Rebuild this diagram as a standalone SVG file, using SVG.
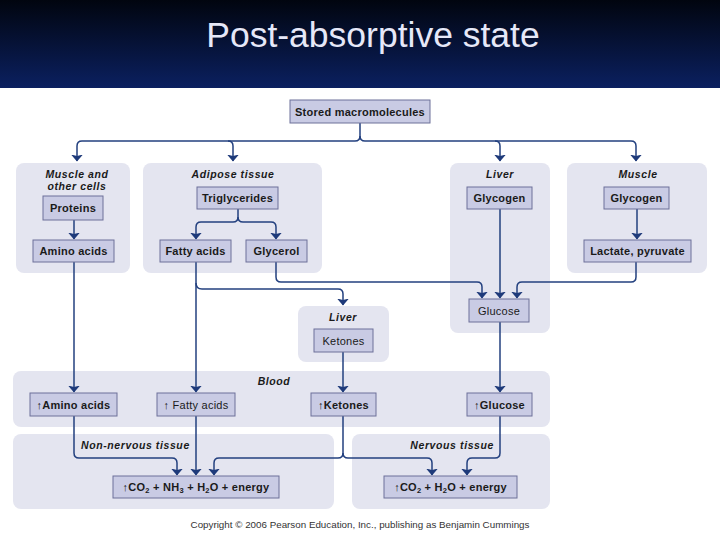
<svg xmlns="http://www.w3.org/2000/svg" width="720" height="540" viewBox="0 0 720 540">
<defs>
<linearGradient id="hdr" x1="0" y1="0" x2="0" y2="1">
<stop offset="0" stop-color="#01050f"/>
<stop offset="1" stop-color="#0b2060"/>
</linearGradient>
<marker id="ah" markerUnits="userSpaceOnUse" markerWidth="7" markerHeight="12" viewBox="0 0 7 12" refX="6.5" refY="6" orient="auto">
<path d="M0,0 L7,6 L0,12 L1.5,6 z" fill="#1e3a7a"/>
</marker>
<style>
.panel{fill:#e4e5f0;}
.box{fill:#c9cbe4;stroke:#6c7099;stroke-width:1;}
.bt{font-family:"Liberation Sans",Arial,sans-serif;font-weight:bold;font-size:11px;letter-spacing:0.25px;fill:#1a1a1a;text-anchor:middle;}
.nw{font-weight:normal;}
.lbl{font-family:"Liberation Sans",Arial,sans-serif;font-weight:bold;font-style:italic;font-size:10.5px;letter-spacing:0.6px;fill:#1a1a1a;text-anchor:middle;}
.st{text-anchor:start;}
.en{text-anchor:end;}
.con{fill:none;stroke:#23407f;stroke-width:1.5;}
</style>
</defs>
<rect x="0" y="0" width="720" height="540" fill="#ffffff"/>
<rect x="0" y="0" width="720" height="88" fill="url(#hdr)"/>
<text x="373" y="47" font-family="'Liberation Sans',Arial,sans-serif" font-size="35.5" fill="#e6e8f8" text-anchor="middle">Post-absorptive state</text>

<g id="panels">
<rect id="p-muscle-other" class="panel" x="16" y="163" width="114" height="110" rx="8"/>
<rect id="p-adipose" class="panel" x="143" y="163" width="179" height="110" rx="8"/>
<rect id="p-liver" class="panel" x="450" y="163" width="100" height="170" rx="8"/>
<rect id="p-muscle" class="panel" x="567" y="163" width="140" height="110" rx="8"/>
<rect id="p-liver2" class="panel" x="298" y="306" width="91" height="56" rx="8"/>
<rect id="p-blood" class="panel" x="13" y="371" width="537" height="56" rx="8"/>
<rect id="p-nonnervous" class="panel" x="13" y="434" width="321" height="75" rx="8"/>
<rect id="p-nervous" class="panel" x="352" y="434" width="198" height="75" rx="8"/>
</g>

<g id="labels">
<text class="lbl" x="77" y="178">Muscle and</text>
<text class="lbl" x="77" y="189.5">other cells</text>
<text class="lbl" x="233" y="178">Adipose tissue</text>
<text class="lbl" x="500" y="178">Liver</text>
<text class="lbl" x="638" y="178">Muscle</text>
<text class="lbl" x="343" y="321">Liver</text>
<text class="lbl" x="274" y="385">Blood</text>
<text class="lbl st" x="81" y="449">Non-nervous tissue</text>
<text class="lbl en" x="494" y="449">Nervous tissue</text>
</g>

<g id="connectors">
<path class="con" d="M360,123 V136 Q360,141 355,141 H82 Q77,141 77,146 V161" marker-end="url(#ah)"/>
<path class="con" d="M228,141 Q233,141 233,146 V161" marker-end="url(#ah)"/>
<path class="con" d="M360,136 Q360,141 365,141 H631 Q636,141 636,146 V161" marker-end="url(#ah)"/>
<path class="con" d="M495,141 Q500,141 500,146 V161" marker-end="url(#ah)"/>
<path class="con" d="M74,220 V239" marker-end="url(#ah)"/>
<path class="con" d="M238,209 V217 Q238,222 233,222 H201 Q196,222 196,227 V239" marker-end="url(#ah)"/>
<path class="con" d="M238,217 Q238,222 243,222 H271 Q276,222 276,227 V239" marker-end="url(#ah)"/>
<path class="con" d="M637,209 V239" marker-end="url(#ah)"/>
<path class="con" d="M74,262 V392" marker-end="url(#ah)"/>
<path class="con" d="M196,262 V392" marker-end="url(#ah)"/>
<path class="con" d="M196,283 Q196,289 202,289 H338 Q343,289 343,294 V305" marker-end="url(#ah)"/>
<path class="con" d="M276,262 V277 Q276,282 281,282 H477 Q482,282 482,287 V298" marker-end="url(#ah)"/>
<path class="con" d="M500,209 V298" marker-end="url(#ah)"/>
<path class="con" d="M636,262 V277 Q636,282 631,282 H522 Q517,282 517,287 V298" marker-end="url(#ah)"/>
<path class="con" d="M343,352 V392" marker-end="url(#ah)"/>
<path class="con" d="M500,322 V392" marker-end="url(#ah)"/>
<path class="con" d="M74,416 V453 Q74,458 79,458 H172 Q177,458 177,463 V475" marker-end="url(#ah)"/>
<path class="con" d="M196,416 V475" marker-end="url(#ah)"/>
<path class="con" d="M343,416 V453 Q343,458 338,458 H219 Q214,458 214,463 V475" marker-end="url(#ah)"/>
<path class="con" d="M343,453 Q343,458 348,458 H427 Q432,458 432,463 V475" marker-end="url(#ah)"/>
<path class="con" d="M500,416 V453 Q500,458 495,458 H472 Q467,458 467,463 V475" marker-end="url(#ah)"/>
</g>

<g id="n-stored"><rect class="box" x="290" y="100" width="140" height="23"/><text class="bt" x="360" y="115.5">Stored macromolecules</text></g>
<g id="n-proteins"><rect class="box" x="43" y="196" width="60" height="24"/><text class="bt" x="73" y="212">Proteins</text></g>
<g id="n-amino"><rect class="box" x="33" y="240" width="81" height="22"/><text class="bt" x="73.5" y="255">Amino acids</text></g>
<g id="n-trig"><rect class="box" x="197" y="187" width="81" height="22"/><text class="bt" x="237.5" y="202">Triglycerides</text></g>
<g id="n-fatty"><rect class="box" x="160" y="240" width="71" height="22"/><text class="bt" x="195.5" y="255">Fatty acids</text></g>
<g id="n-glycerol"><rect class="box" x="246" y="240" width="61" height="22"/><text class="bt" x="276.5" y="255">Glycerol</text></g>
<g id="n-glycogen-liver"><rect class="box" x="467" y="187" width="65" height="22"/><text class="bt" x="499.5" y="202">Glycogen</text></g>
<g id="n-glycogen-muscle"><rect class="box" x="604" y="187" width="65" height="22"/><text class="bt" x="636.5" y="202">Glycogen</text></g>
<g id="n-lactate"><rect class="box" x="584" y="240" width="107" height="22"/><text class="bt" x="637.5" y="255">Lactate, pyruvate</text></g>
<g id="n-glucose"><rect class="box" x="469" y="299" width="60" height="23"/><text class="bt nw" x="499" y="314.5">Glucose</text></g>
<g id="n-ketones"><rect class="box" x="314" y="329" width="59" height="23"/><text class="bt nw" x="343.5" y="344.5">Ketones</text></g>
<g id="n-b-amino"><rect class="box" x="30" y="393" width="87" height="23"/><text class="bt" x="73.5" y="409">↑Amino acids</text></g>
<g id="n-b-fatty"><rect class="box" x="157" y="393" width="78" height="23"/><text class="bt nw" x="196" y="409">↑ Fatty acids</text></g>
<g id="n-b-ketones"><rect class="box" x="311" y="393" width="65" height="23"/><text class="bt" x="343.5" y="409">↑Ketones</text></g>
<g id="n-b-glucose"><rect class="box" x="467" y="393" width="65" height="23"/><text class="bt" x="499.5" y="409">↑Glucose</text></g>
<g id="n-co2-non"><rect class="box" x="113" y="476" width="166" height="22"/><text class="bt" x="196" y="491">↑CO<tspan font-size="7.5" dy="2">2</tspan><tspan dy="-2"> + NH</tspan><tspan font-size="7.5" dy="2">3</tspan><tspan dy="-2"> + H</tspan><tspan font-size="7.5" dy="2">2</tspan><tspan dy="-2">O + energy</tspan></text></g>
<g id="n-co2-nerv"><rect class="box" x="384" y="476" width="133" height="22"/><text class="bt" x="450.5" y="491">↑CO<tspan font-size="7.5" dy="2">2</tspan><tspan dy="-2"> + H</tspan><tspan font-size="7.5" dy="2">2</tspan><tspan dy="-2">O + energy</tspan></text></g>

<text x="360" y="528" font-family="'Liberation Sans',Arial,sans-serif" font-size="9.8" fill="#333" text-anchor="middle">Copyright © 2006 Pearson Education, Inc., publishing as Benjamin Cummings</text>
</svg>
